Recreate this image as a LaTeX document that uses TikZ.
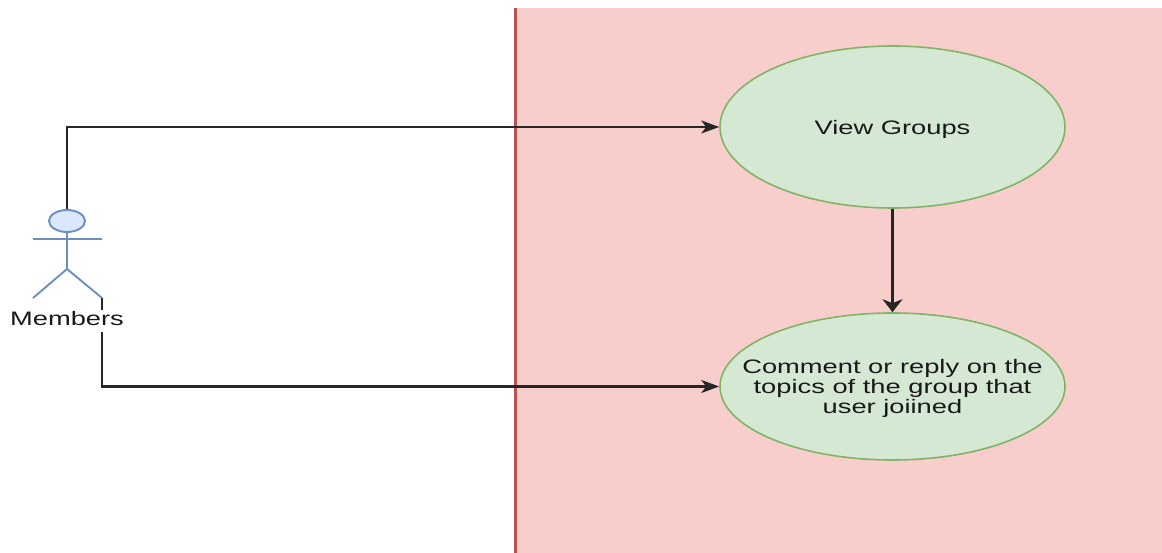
\documentclass[tikz,border=0pt]{standalone}
\usepackage{graphicx}
\usepackage{fontspec}
\setmainfont{Liberation Sans}
\usetikzlibrary{arrows.meta, shapes.geometric, positioning}

\definecolor{boundfill}{HTML}{F8CECC}
\definecolor{boundline}{HTML}{B85450}
\definecolor{casefill}{HTML}{D5E8D4}
\definecolor{caseline}{HTML}{82B366}
\definecolor{actorfill}{HTML}{DAE8FC}
\definecolor{actorline}{HTML}{6C8EBF}

% text is drawn a bit wider than high, as in the picture
\newcommand{\wide}[1]{\scalebox{1.4}[1]{\begin{tabular}{@{}c@{}}#1\end{tabular}}}

\begin{document}
\begin{tikzpicture}[x = 1pt, y = -1pt, % pixel units, y goes down
                semithick % line style
            ]

            \tikzstyle{every node}=[font=\fontsize{19.5}{20}\selectfont,
            inner sep = 0pt, text = black!90]
            \tikzstyle{usecase}=[ellipse, draw = caseline, fill = casefill,
            line width = 1.6pt, minimum width = 345pt]
            \tikzstyle{flow}=[draw = black!85, line width = 2.1pt]
            \tikzstyle{harrow}=[-{Stealth[length=18pt, width=13pt, inset=5pt]}]
            \tikzstyle{varrow}=[-{Stealth[length=13pt, width=20pt, inset=4pt]}]
            \tikzstyle{stick}=[draw = actorline, line width = 1.9pt]

            \useasboundingbox (0,0) rectangle (1162,553);

            % system box
            \fill[boundfill] (514,8) rectangle (1162,553);
            \draw[boundline, line width = 3pt] (515,8) -- (515,553);

            % use cases
            \node[usecase, minimum height = 162pt,
            label={[yshift=-3pt]center:\wide{View Groups}}] (view) at
            (892.5,127) {};
            \node[usecase, minimum height = 147pt,
            label={[yshift=-3pt]center:\wide{Comment or reply on the\\ topics
            of the group that\\ user joiined}}] (comment) at (892.5,386.5) {};

            % actor
            \node[ellipse, stick, fill = actorfill, minimum width = 36pt,
            minimum height = 22pt] (head) at (67,221) {};
            \coordinate (hip) at (67,269); \coordinate (lhand) at (33,239);
            \coordinate (rhand) at (102,239); \coordinate (lfoot) at (33,298);
            \coordinate (rfoot) at (102,298);
            \draw[stick] (head) -- (hip); \draw[stick] (lhand) -- (rhand);
            \draw[stick] (lfoot) -- (hip) -- (rfoot);

            \path[flow, harrow] (head) |- (view); \path[flow, harrow] (rfoot)
            |- (comment); \path[flow, varrow] (view) -- (comment);

            \node[fill = white, inner ysep = 1pt, inner xsep = 2pt] (members)
            at (67,321) {\wide{Members}};
            \end{tikzpicture}
\end{document}
